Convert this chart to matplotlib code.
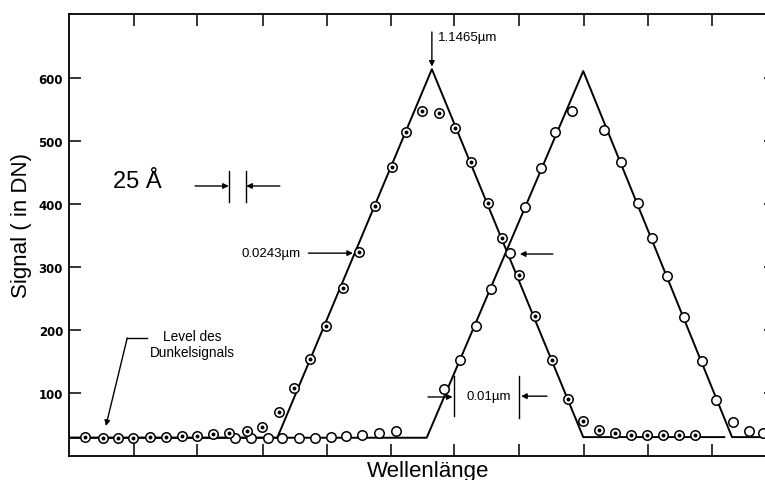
import numpy as np
import matplotlib
matplotlib.use('Agg')
import matplotlib.pyplot as plt

# measured points, x in µm, y in DN
s1_x = [1.0929, 1.0956, 1.0979, 1.1003, 1.1029, 1.1054, 1.1078, 1.1102, 1.1127, 1.1152,
        1.1179, 1.1203, 1.1228, 1.1252, 1.1277, 1.1301, 1.1327, 1.1353, 1.1377, 1.1403,
        1.1425, 1.1450, 1.1476, 1.1500, 1.1525, 1.1552, 1.1574, 1.1599, 1.1624, 1.1651,
        1.1675, 1.1699, 1.1724, 1.1748, 1.1773, 1.1797, 1.1822, 1.1847, 1.1872]
s1_y = [30, 29, 29, 29, 30, 30, 31, 32, 35, 37,
        40, 46, 70, 108, 154, 207, 266, 324, 397, 459,
        515, 548, 545, 520, 467, 402, 346, 288, 222, 152,
        90, 55, 41, 37, 34, 34, 34, 34, 34]

s2_x = [1.1160, 1.1186, 1.1211, 1.1234, 1.1260, 1.1284, 1.1309, 1.1332, 1.1357, 1.1383,
        1.1409, 1.1483, 1.1508, 1.1533, 1.1557, 1.1585, 1.1609, 1.1634, 1.1656, 1.1682,
        1.1731, 1.1757, 1.1784, 1.1806, 1.1829, 1.1855, 1.1882, 1.1905, 1.1930, 1.1956,
        1.1977]
s2_y = [29, 29, 29, 29, 29, 29, 30, 31, 34, 36,
        40, 106, 153, 206, 265, 323, 396, 457, 514, 547,
        518, 466, 402, 346, 286, 220, 151, 89, 54, 40,
        37]

# fitted triangles
fit1_x = [1.0904, 1.1226, 1.1465, 1.1699, 1.1917]
fit1_y = [29, 29, 614, 30, 30]
fit2_x = [1.0904, 1.1457, 1.1699, 1.1929, 1.2000]
fit2_y = [29, 29, 611, 30, 30]

xticks = [1.1004, 1.1102, 1.1204, 1.1303, 1.1402, 1.1499, 1.1600, 1.1700, 1.1799, 1.1898]
yticks = [100, 200, 300, 400, 500, 600]

font = 'Liberation Sans'
k = 'black'

fig = plt.figure(figsize=(7.65, 4.81), dpi=100)
ax = fig.add_axes([69/765, 24/481, 707/765, 442/481])
ax.set_xlim(1.0904, 1.1997); ax.set_ylim(0, 701.6)

ax.plot(fit1_x, fit1_y, color=k, lw=1.4, zorder=2)
ax.plot(fit2_x, fit2_y, color=k, lw=1.4, zorder=2)
ax.plot(s2_x, s2_y, ls='none', marker='o', ms=6.8, mfc='white', mec=k, mew=1.1, zorder=3)
ax.plot(s1_x, s1_y, ls='none', marker='o', ms=6.8, mfc='white', mec=k, mew=1.1, zorder=4)
ax.plot(s1_x, s1_y, ls='none', marker='o', ms=1.8, color=k, zorder=5)

ax.set_xticks(xticks); ax.set_xticklabels([])
ax.set_yticks(yticks)
ax.set_yticklabels([str(v) for v in yticks], fontfamily='DejaVu Sans', fontweight='bold', fontsize=8.5)
ax.tick_params(direction='in', length=8.6, width=1.1, top=True, right=True, pad=4.3, color=k)
for s in ax.spines.values():
    s.set_linewidth(1.3); s.set_color(k)

def arrow(x0, y0, x1, y1):
    ax.annotate('', xy=(x1, y1), xytext=(x0, y0),
                arrowprops=dict(arrowstyle='-|>', color=k, lw=1.0, mutation_scale=8,
                                shrinkA=0, shrinkB=0), zorder=6)

# peak marker
arrow(1.1465, 673, 1.1465, 618)
ax.text(1.1475, 665, '1.1465µm', fontfamily=font, fontsize=9.5, va='center', ha='left')

# 25 A step
ax.text(1.1009, 427, '25 Å', fontfamily=font, fontsize=17, ha='center', va='baseline')
ax.plot([1.1151, 1.1151], [403, 452], color=k, lw=1.0)
ax.plot([1.1178, 1.1178], [403, 452], color=k, lw=1.0)
arrow(1.1099, 428.6, 1.1151, 428.6)
arrow(1.1230, 428.6, 1.1178, 428.6)

# FWHM
ax.text(1.1170, 322, '0.0243µm', fontfamily=font, fontsize=9.5, va='center', ha='left')
arrow(1.1274, 322, 1.1343, 322)
arrow(1.1652, 320.6, 1.1601, 320.6)

# 0.01 µm
ax.plot([1.1499, 1.1499], [63.5, 127], color=k, lw=1.0)
ax.plot([1.1600, 1.1600], [60, 127], color=k, lw=1.0)
arrow(1.1459, 93.7, 1.1497, 93.7)
arrow(1.1643, 95, 1.1603, 95)
ax.text(1.1518, 95, '0.01µm', fontfamily=font, fontsize=9.5, va='center', ha='left')

# dark level
ax.text(1.1094, 178, 'Level des\nDunkelsignals', fontfamily=font, fontsize=9.8,
        ha='center', va='center', linespacing=1.15)
ax.plot([1.1025, 1.0994], [187.3, 187.3], color=k, lw=1.0)
arrow(1.0994, 187.3, 1.0961, 47.6)

fig.text(22/765, 1 - 226/481, 'Signal ( in DN)', fontfamily=font, fontsize=16,
         rotation=90, ha='center', va='center')
fig.text(428/765, 4/481, 'Wellenlänge', fontfamily=font, fontsize=16, ha='center', va='baseline')

fig.savefig('out.png', dpi=100)
